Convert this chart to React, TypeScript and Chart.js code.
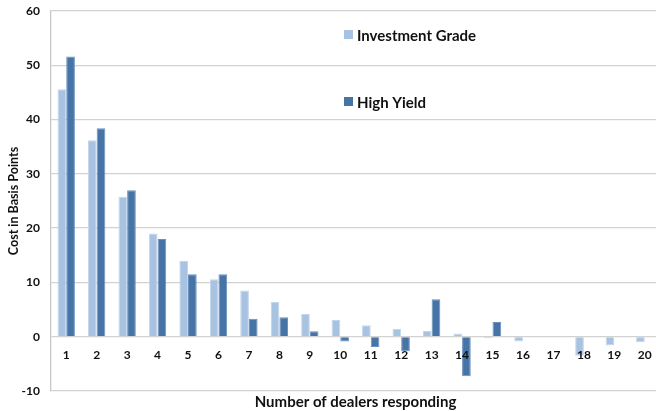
import React, { useEffect, useRef } from "react";
import { Chart, registerables } from "chart.js";

Chart.register(...registerables);

const categories = ["1","2","3","4","5","6","7","8","9","10","11","12","13","14","15","16","17","18","19","20"];
const investmentGrade = [45.6, 36.2, 25.8, 19.0, 14.0, 10.6, 8.5, 6.4, 4.2, 3.1, 2.1, 1.4, 1.05, 0.6, -0.3, -0.9, 0, -3.5, -1.6, -1.0];
const highYield = [51.6, 38.4, 27.0, 18.0, 11.5, 11.5, 3.3, 3.6, 1.0, -0.9, -1.9, -2.7, 6.9, -7.3, 2.7, 0, 0, 0, 0, 0];
const yMin = -10;
const yMax = 60;
const yStep = 10;

const FONT = "Lato, 'Open Sans', sans-serif";

const legendPlugin = {
  id: "customLegend",
  afterDraw(chart: any) {
    const ctx = chart.ctx;
    const items = [
      { y: 35, idx: 0 },
      { y: 102, idx: 1 },
    ];
    ctx.save();
    items.forEach((it) => {
      const ds = chart.data.datasets[it.idx];
      ctx.fillStyle = ds.backgroundColor;
      ctx.fillRect(344, it.y - 5, 9, 9);
      ctx.fillStyle = "#111";
      ctx.font = `bold 15px ${FONT}`;
      ctx.textBaseline = "middle";
      ctx.textAlign = "left";
      ctx.fillText(ds.label, 357, it.y + 1);
    });
    ctx.restore();
  },
};

export default function App() {
  const ref = useRef<HTMLCanvasElement | null>(null);
  useEffect(() => {
    document.body.style.margin = "0";
    document.documentElement.style.overflow = "hidden";
    if (!ref.current) return;
    const chart = new Chart(ref.current, {
      type: "bar",
      data: {
        labels: categories,
        datasets: [
          {
            label: "Investment Grade",
            data: investmentGrade,
            backgroundColor: "#A8C3E2",
            borderColor: "#C3D6EC",
            borderWidth: 1,
            xAxisID: "x",
          },
          {
            label: "High Yield",
            data: highYield,
            backgroundColor: "#4774A6",
            borderColor: "#6A90BC",
            borderWidth: 1,
            xAxisID: "x",
          },
        ],
      },
      options: {
        animation: false,
        responsive: false,
        maintainAspectRatio: false,
        layout: { padding: { top: 11, right: 0, left: 0, bottom: 0 } },
        plugins: {
          legend: { display: false },
          tooltip: { enabled: false },
        },
        datasets: {
          bar: { categoryPercentage: 0.57, barPercentage: 1.0 },
        },
        scales: {
          x: {
            type: "category",
            position: { y: 0 } as any,
            grid: { display: false, drawTicks: true, tickLength: 8 },
            border: { display: false },
            ticks: {
              z: 1,
              color: "#111",
              font: { family: FONT, size: 12, weight: "bold" },
              padding: 3,
              maxRotation: 0,
              autoSkip: false,
            },
          },
          x2: {
            type: "category",
            position: "bottom",
            labels: categories,
            grid: { display: false },
            border: { display: false },
            ticks: { display: false },
            title: {
              display: true,
              text: "Number of dealers responding",
              color: "#111",
              font: { family: FONT, size: 15, weight: "bold" },
              padding: { top: 0, bottom: 0 },
            },
            afterFit: (s: any) => {
              s.height = 20;
            },
          },
          y: {
            min: yMin,
            max: yMax,
            ticks: {
              stepSize: yStep,
              color: "#111",
              font: { family: FONT, size: 12, weight: "bold" },
              padding: 3,
            },
            grid: {
              color: "#D2D2D2",
              lineWidth: 1.3,
              drawTicks: true,
              tickLength: 8,
              tickColor: "rgba(0,0,0,0)",
            },
            border: { display: true, color: "#C8C8C8", width: 1.3 },
            title: {
              display: true,
              text: "Cost in Basis Points",
              color: "#111",
              font: { family: FONT, size: 12.5, weight: "bold" },
              padding: { top: 6, bottom: 0 },
            },
            afterFit: (s: any) => {
              s.width = 51;
            },
          },
        },
      },
      plugins: [legendPlugin],
    });
    return () => chart.destroy();
  }, []);
  return (
    <div style={{ width: 660, height: 411, position: "absolute", left: 0, top: 0 }}>
      <canvas ref={ref} width={660} height={411} style={{ width: 660, height: 411 }} />
    </div>
  );
}
